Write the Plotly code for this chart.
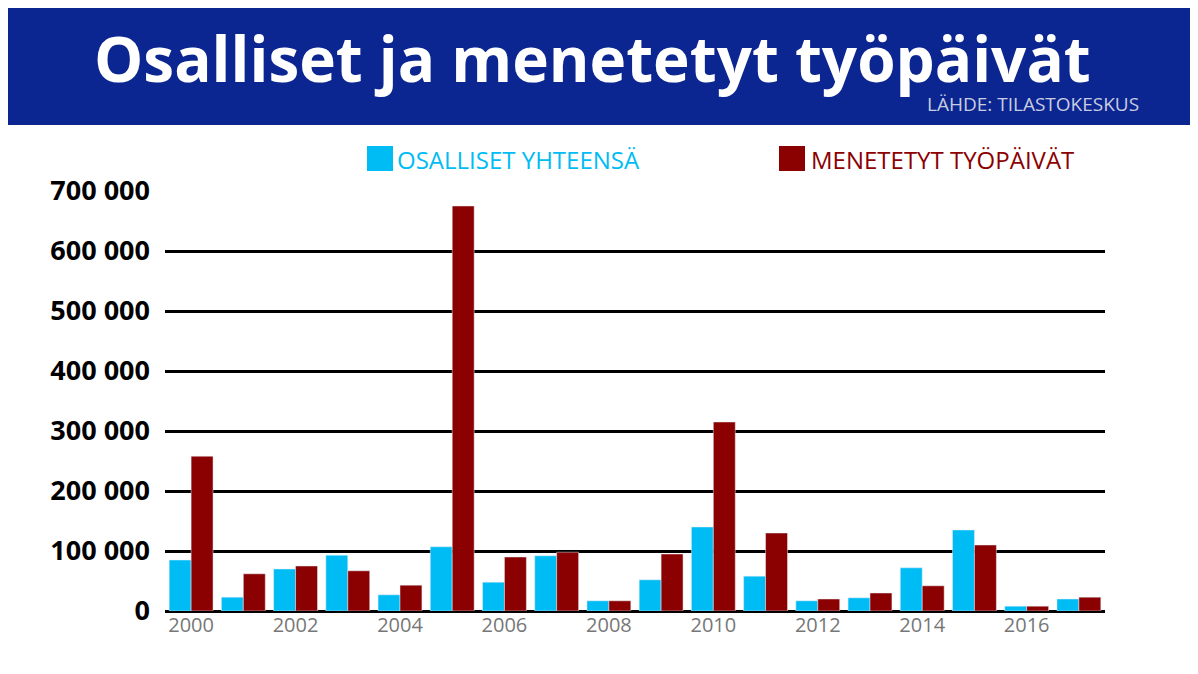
import plotly.graph_objects as go

years = list(range(2000, 2018))
osalliset = [85000, 23000, 70000, 93000, 27000, 107000, 48000, 92000, 17000, 52000,
             140000, 58000, 17000, 22000, 72000, 135000, 8000, 20000]
tyopaivat = [258000, 62000, 75000, 67000, 43000, 675000, 90000, 98000, 17000, 95000,
             315000, 130000, 20000, 30000, 42000, 110000, 8000, 23000]
ytick_vals = [0, 100000, 200000, 300000, 400000, 500000, 600000, 700000]
ytick_text = ["0", "100 000", "200 000", "300 000", "400 000", "500 000", "600 000", "700 000"]
xtick_vals = list(range(2000, 2018, 2))

CYAN = "#00bcf5"
RED = "#8b0000"

# page offsets (page has 8px body margin)
L, T, PW, PH = 157, 183, 940, 420

def px(x):
    return (x - 8 - L) / PW

def py(y):
    return 1 + (T - (y - 8)) / PH

fig = go.Figure()
fig.add_bar(x=years, y=osalliset, marker_color=CYAN, name="OSALLISET YHTEENSÄ")
fig.add_bar(x=years, y=tyopaivat, marker_color=RED, name="MENETETYT TYÖPÄIVÄT")

fig.update_layout(
    width=1198, height=674, barmode="group", bargap=0.16, bargroupgap=0,
    paper_bgcolor="white", plot_bgcolor="white",
    margin=dict(l=L, r=1198 - L - PW, t=T, b=674 - T - PH),
    font=dict(family="Open Sans", color="black"),
    showlegend=False,
    xaxis=dict(tickvals=xtick_vals, range=[1999.5, 2017.5], showgrid=False,
               tickfont=dict(size=20, color="#777777"), ticks="", showline=False),
    yaxis=dict(range=[0, 700000], tickvals=ytick_vals, ticktext=ytick_text,
               showgrid=True, gridcolor="black", gridwidth=3, zeroline=True,
               zerolinecolor="black", zerolinewidth=3, ticks="", ticklabelstandoff=14,
               tickfont=dict(size=27, family="Open Sans", weight="bold", color="black")),
    shapes=[
        dict(type="rect", xref="paper", yref="paper", x0=-0.3, x1=1.3,
             y0=py(125), y1=py(0), fillcolor="#0b2591", line_width=0, layer="below"),
        dict(type="rect", xref="paper", yref="paper", x0=px(367), x1=px(393),
             y0=py(171), y1=py(146), fillcolor=CYAN, line_width=0),
        dict(type="rect", xref="paper", yref="paper", x0=px(779), x1=px(805),
             y0=py(171), y1=py(146), fillcolor=RED, line_width=0),
    ],
    annotations=[
        dict(text="<b>Osalliset ja menetetyt työpäivät</b>", xref="paper", yref="paper",
             x=px(592), y=py(58), xanchor="center", yanchor="middle",
             showarrow=False, font=dict(size=62, color="white", family="Open Sans")),
        dict(text="LÄHDE: TILASTOKESKUS", xref="paper", yref="paper",
             x=px(1141), y=py(104), xanchor="right", yanchor="middle",
             showarrow=False, font=dict(size=19, color="#c8cde0", family="Open Sans")),
        dict(text="OSALLISET YHTEENSÄ", xref="paper", yref="paper",
             x=px(395), y=py(159), xanchor="left", yanchor="middle",
             showarrow=False, font=dict(size=24, color=CYAN, family="Open Sans")),
        dict(text="MENETETYT TYÖPÄIVÄT", xref="paper", yref="paper",
             x=px(809), y=py(159), xanchor="left", yanchor="middle",
             showarrow=False, font=dict(size=24, color=RED, family="Open Sans")),
    ],
)
fig.write_html("out.html")
